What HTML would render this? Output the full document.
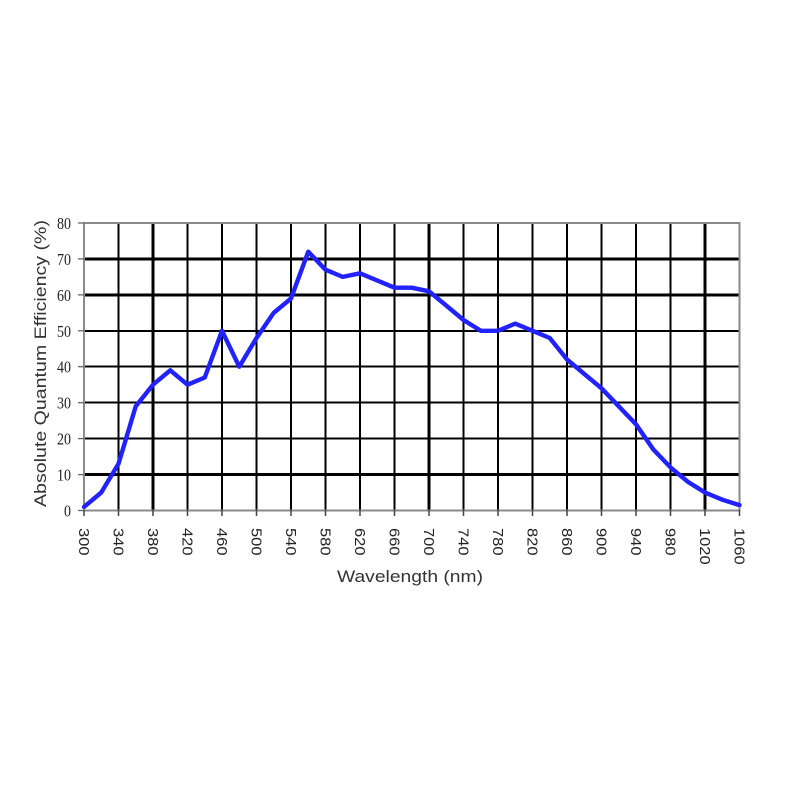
<!DOCTYPE html>
<html>
<head>
<meta charset="utf-8">
<style>
html,body{margin:0;padding:0;background:#fff;}
svg{display:block;}
</style>
</head>
<body>
<svg width="800" height="800" viewBox="0 0 800 800" xmlns="http://www.w3.org/2000/svg">
<rect width="800" height="800" fill="#fff"/>
<!-- horizontal grid -->
<g stroke="#000" shape-rendering="crispEdges">
<line x1="84" x2="739.5" y1="258.9" y2="258.9" stroke-width="3"/>
<line x1="84" x2="739.5" y1="294.9" y2="294.9" stroke-width="3"/>
<line x1="84" x2="739.5" y1="330.8" y2="330.8" stroke-width="2"/>
<line x1="84" x2="739.5" y1="366.7" y2="366.7" stroke-width="2"/>
<line x1="84" x2="739.5" y1="402.7" y2="402.7" stroke-width="2"/>
<line x1="84" x2="739.5" y1="438.6" y2="438.6" stroke-width="2"/>
<line x1="84" x2="739.5" y1="474.6" y2="474.6" stroke-width="3"/>
</g>
<!-- vertical grid -->
<g stroke="#000" shape-rendering="crispEdges" stroke-width="2">
<line x1="118.5" x2="118.5" y1="223" y2="510.5"/>
<line x1="153" x2="153" y1="223" y2="510.5" stroke-width="3"/>
<line x1="187.5" x2="187.5" y1="223" y2="510.5"/>
<line x1="222" x2="222" y1="223" y2="510.5"/>
<line x1="256.5" x2="256.5" y1="223" y2="510.5"/>
<line x1="291" x2="291" y1="223" y2="510.5"/>
<line x1="325.5" x2="325.5" y1="223" y2="510.5"/>
<line x1="360" x2="360" y1="223" y2="510.5"/>
<line x1="394.5" x2="394.5" y1="223" y2="510.5"/>
<line x1="429" x2="429" y1="223" y2="510.5" stroke-width="3"/>
<line x1="463.5" x2="463.5" y1="223" y2="510.5"/>
<line x1="498" x2="498" y1="223" y2="510.5"/>
<line x1="532.5" x2="532.5" y1="223" y2="510.5"/>
<line x1="567" x2="567" y1="223" y2="510.5"/>
<line x1="601.5" x2="601.5" y1="223" y2="510.5"/>
<line x1="636" x2="636" y1="223" y2="510.5"/>
<line x1="670.5" x2="670.5" y1="223" y2="510.5"/>
<line x1="705" x2="705" y1="223" y2="510.5" stroke-width="3"/>
</g>
<!-- frame/axes -->
<g stroke="#8a8a8a" stroke-width="2" fill="none" shape-rendering="crispEdges">
<rect x="84" y="223" width="655.5" height="287.5"/>
</g>
<!-- y ticks -->
<g stroke="#666" stroke-width="1.3">
<line x1="78" x2="84" y1="223" y2="223"/>
<line x1="78" x2="84" y1="258.9" y2="258.9"/>
<line x1="78" x2="84" y1="294.9" y2="294.9"/>
<line x1="78" x2="84" y1="330.8" y2="330.8"/>
<line x1="78" x2="84" y1="366.7" y2="366.7"/>
<line x1="78" x2="84" y1="402.7" y2="402.7"/>
<line x1="78" x2="84" y1="438.6" y2="438.6"/>
<line x1="78" x2="84" y1="474.6" y2="474.6"/>
<line x1="78" x2="84" y1="510.5" y2="510.5"/>
</g>
<!-- x ticks -->
<g stroke="#444" stroke-width="1.5">
<line x1="84" x2="84" y1="510" y2="516"/>
<line x1="118.5" x2="118.5" y1="510" y2="516"/>
<line x1="153" x2="153" y1="510" y2="516"/>
<line x1="187.5" x2="187.5" y1="510" y2="516"/>
<line x1="222" x2="222" y1="510" y2="516"/>
<line x1="256.5" x2="256.5" y1="510" y2="516"/>
<line x1="291" x2="291" y1="510" y2="516"/>
<line x1="325.5" x2="325.5" y1="510" y2="516"/>
<line x1="360" x2="360" y1="510" y2="516"/>
<line x1="394.5" x2="394.5" y1="510" y2="516"/>
<line x1="429" x2="429" y1="510" y2="516"/>
<line x1="463.5" x2="463.5" y1="510" y2="516"/>
<line x1="498" x2="498" y1="510" y2="516"/>
<line x1="532.5" x2="532.5" y1="510" y2="516"/>
<line x1="567" x2="567" y1="510" y2="516"/>
<line x1="601.5" x2="601.5" y1="510" y2="516"/>
<line x1="636" x2="636" y1="510" y2="516"/>
<line x1="670.5" x2="670.5" y1="510" y2="516"/>
<line x1="705" x2="705" y1="510" y2="516"/>
<line x1="739.5" x2="739.5" y1="510" y2="516"/>
</g>
<!-- data line -->
<polyline fill="none" stroke="#2222ff" stroke-width="4.4" stroke-linejoin="round" stroke-linecap="round"
points="84,506.9 101.25,492.5 118.5,463.8 135.75,406.3 153,384.7 170.25,370.3 187.5,384.7 204.75,377.5 222,330.8 239.25,366.7 256.5,338.0 273.75,312.8 291,298.5 308.25,251.7 325.5,269.7 342.75,276.9 360,273.3 377.25,280.5 394.5,287.7 411.75,287.7 429,291.3 446.25,305.6 463.5,320.0 480.75,330.8 498,330.8 515.25,323.6 532.5,330.8 549.75,338.0 567,359.5 584.25,373.9 601.5,388.3 618.75,406.3 636,424.3 653.25,449.4 670.5,467.4 687.75,481.7 705,492.5 722.25,499.7 739.5,505.1"/>
<!-- y tick labels -->
<g font-family="'Liberation Serif', serif" font-size="17" fill="#222" text-anchor="end">
<text x="71" y="229" textLength="14" lengthAdjust="spacingAndGlyphs">80</text>
<text x="71" y="264.9" textLength="14" lengthAdjust="spacingAndGlyphs">70</text>
<text x="71" y="300.9" textLength="14" lengthAdjust="spacingAndGlyphs">60</text>
<text x="71" y="336.8" textLength="14" lengthAdjust="spacingAndGlyphs">50</text>
<text x="71" y="372.7" textLength="14" lengthAdjust="spacingAndGlyphs">40</text>
<text x="71" y="408.7" textLength="14" lengthAdjust="spacingAndGlyphs">30</text>
<text x="71" y="444.6" textLength="14" lengthAdjust="spacingAndGlyphs">20</text>
<text x="71" y="480.6" textLength="14" lengthAdjust="spacingAndGlyphs">10</text>
<text x="71" y="516.5" textLength="7" lengthAdjust="spacingAndGlyphs">0</text>
</g>
<!-- x tick labels -->
<g font-family="'Liberation Sans', sans-serif" font-size="14.5" fill="#222">
<text transform="translate(84,528) rotate(90)" dy="0.36em" textLength="27.5" lengthAdjust="spacingAndGlyphs">300</text>
<text transform="translate(118.5,528) rotate(90)" dy="0.36em" textLength="27.5" lengthAdjust="spacingAndGlyphs">340</text>
<text transform="translate(153,528) rotate(90)" dy="0.36em" textLength="27.5" lengthAdjust="spacingAndGlyphs">380</text>
<text transform="translate(187.5,528) rotate(90)" dy="0.36em" textLength="27.5" lengthAdjust="spacingAndGlyphs">420</text>
<text transform="translate(222,528) rotate(90)" dy="0.36em" textLength="27.5" lengthAdjust="spacingAndGlyphs">460</text>
<text transform="translate(256.5,528) rotate(90)" dy="0.36em" textLength="27.5" lengthAdjust="spacingAndGlyphs">500</text>
<text transform="translate(291,528) rotate(90)" dy="0.36em" textLength="27.5" lengthAdjust="spacingAndGlyphs">540</text>
<text transform="translate(325.5,528) rotate(90)" dy="0.36em" textLength="27.5" lengthAdjust="spacingAndGlyphs">580</text>
<text transform="translate(360,528) rotate(90)" dy="0.36em" textLength="27.5" lengthAdjust="spacingAndGlyphs">620</text>
<text transform="translate(394.5,528) rotate(90)" dy="0.36em" textLength="27.5" lengthAdjust="spacingAndGlyphs">660</text>
<text transform="translate(429,528) rotate(90)" dy="0.36em" textLength="27.5" lengthAdjust="spacingAndGlyphs">700</text>
<text transform="translate(463.5,528) rotate(90)" dy="0.36em" textLength="27.5" lengthAdjust="spacingAndGlyphs">740</text>
<text transform="translate(498,528) rotate(90)" dy="0.36em" textLength="27.5" lengthAdjust="spacingAndGlyphs">780</text>
<text transform="translate(532.5,528) rotate(90)" dy="0.36em" textLength="27.5" lengthAdjust="spacingAndGlyphs">820</text>
<text transform="translate(567,528) rotate(90)" dy="0.36em" textLength="27.5" lengthAdjust="spacingAndGlyphs">860</text>
<text transform="translate(601.5,528) rotate(90)" dy="0.36em" textLength="27.5" lengthAdjust="spacingAndGlyphs">900</text>
<text transform="translate(636,528) rotate(90)" dy="0.36em" textLength="27.5" lengthAdjust="spacingAndGlyphs">940</text>
<text transform="translate(670.5,528) rotate(90)" dy="0.36em" textLength="27.5" lengthAdjust="spacingAndGlyphs">980</text>
<text transform="translate(705,528) rotate(90)" dy="0.36em" textLength="36.6" lengthAdjust="spacingAndGlyphs">1020</text>
<text transform="translate(739.5,528) rotate(90)" dy="0.36em" textLength="36.6" lengthAdjust="spacingAndGlyphs">1060</text>
</g>
<!-- axis titles -->
<g font-family="'Liberation Sans', sans-serif" font-size="17" fill="#333">
<text x="410" y="582" text-anchor="middle" textLength="146" lengthAdjust="spacingAndGlyphs">Wavelength (nm)</text>
<text transform="translate(46,363.5) rotate(-90)" text-anchor="middle" textLength="287" lengthAdjust="spacingAndGlyphs">Absolute Quantum Efficiency (%)</text>
</g>
</svg>
</body>
</html>
